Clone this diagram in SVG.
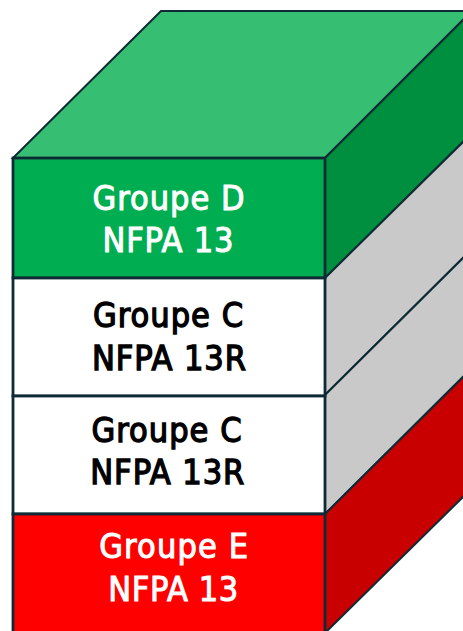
<svg xmlns="http://www.w3.org/2000/svg" width="463" height="631" viewBox="0 0 463 631">
<style>
.e{stroke:#0e2a35;stroke-width:2;stroke-linejoin:miter}
.f{stroke:#0e2a35;stroke-width:2.8}
text{font-family:"DejaVu Sans Condensed","DejaVu Sans",sans-serif;font-size:34px;text-anchor:middle}
.w{fill:#fff;stroke:#fff;stroke-width:1}
.k{fill:#000;stroke:#000;stroke-width:1.3}
</style>
<rect width="463" height="631" fill="#fff"/>
<g id="top"><path class="e" fill="#36bf72" d="M13 158L161 11H465V18L325 158Z"/></g>
<g id="side-d"><path class="e" fill="#008f3e" d="M325 158L465 18V140L325 278Z"/></g>
<g id="side-c1"><path class="e" fill="#c9c9c9" d="M325 278L465 140V256L325 395Z"/></g>
<g id="side-c2"><path class="e" fill="#c9c9c9" d="M325 395L465 256V375L325 514Z"/></g>
<g id="side-e"><path class="e" fill="#c80000" d="M325 514L465 375V495L325 633Z"/></g>
<g id="groupe-d"><rect class="f" x="13" y="158" width="312" height="120" fill="#00ad50"/>
<text class="w" x="168.500" y="210" textLength="152">Groupe D</text><text class="w" x="168" y="252" textLength="131">NFPA 13</text></g>
<g id="groupe-c-upper"><rect class="f" x="13" y="278" width="312" height="118" fill="#fff"/>
<text class="k" x="168" y="327" textLength="150">Groupe C</text><text class="k" x="169" y="370" textLength="154">NFPA 13R</text></g>
<g id="groupe-c-lower"><rect class="f" x="13" y="396" width="312" height="118" fill="#fff"/>
<text class="k" x="166.500" y="442" textLength="150">Groupe C</text><text class="k" x="167.300" y="484" textLength="154">NFPA 13R</text></g>
<g id="groupe-e"><rect class="f" x="13" y="514" width="312" height="120" fill="#fe0000"/>
<text class="w" x="173.700" y="558" textLength="149">Groupe E</text><text class="w" x="173.300" y="601" textLength="130">NFPA 13</text></g>
</svg>
